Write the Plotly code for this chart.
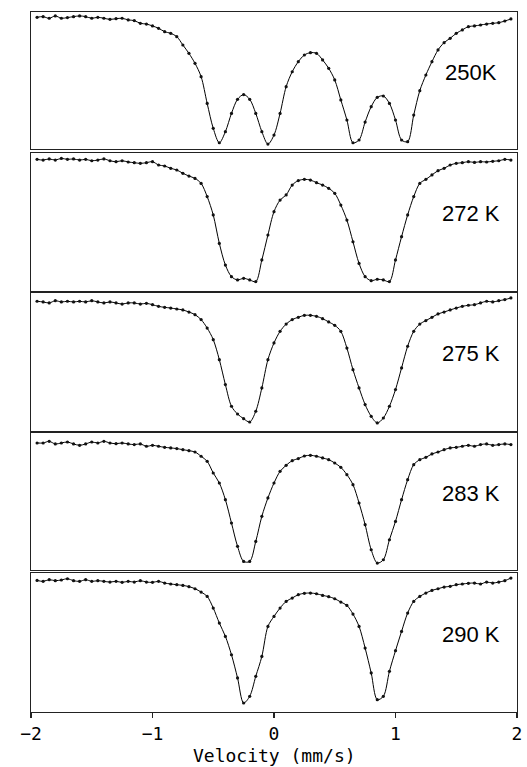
import plotly.graph_objects as go

# Velocity grid (mm/s)
velocity = [round(-1.95 + 0.05 * i, 2) for i in range(79)]

# Relative transmission (% of panel span)
t250 = [96.1, 96.6, 95.4, 97.1, 95.4, 95.9, 96.6, 97.1, 96.6, 95.4, 96.1, 95.4, 94.6, 95.1, 95.4, 94.2,
        93.7, 91.7, 91.2, 89.8, 88.1, 85.6, 84.4, 82.0, 75.9, 69.8, 62.5, 52.8, 33.3, 15.1, 4.6, 12.7,
        26.0, 36.3, 39.7, 36.3, 26.0, 12.7, 3.6, 10.2, 26.0, 45.5, 56.4, 63.7, 68.6, 70.3, 69.8, 65.0,
        58.9, 50.4, 35.8, 21.2, 4.6, 6.6, 19.7, 30.9, 37.7, 38.7, 33.3, 21.2, 6.6, 5.4, 24.8, 42.6,
        54.0, 63.7, 72.3, 77.6, 80.8, 84.4, 86.9, 89.3, 89.8, 90.5, 91.2, 91.7, 92.2, 93.4, 94.9]

t272 = [95.4, 94.9, 95.7, 94.9, 96.1, 95.4, 95.7, 94.9, 95.4, 94.4, 94.9, 95.7, 94.4, 93.7, 94.4, 93.5,
        93.0, 92.5, 93.0, 93.7, 91.3, 90.6, 88.9, 87.7, 85.3, 83.3, 81.6, 78.0, 68.4, 55.1, 34.5, 18.8,
        10.4, 8.0, 9.2, 8.0, 6.8, 22.5, 40.6, 57.5, 65.9, 69.6, 76.8, 80.0, 80.9, 80.4, 78.5, 76.8,
        74.4, 70.8, 62.3, 51.4, 35.7, 20.0, 10.4, 7.5, 8.5, 8.0, 6.8, 22.5, 39.4, 55.1, 68.4, 78.0,
        80.9, 84.1, 87.2, 88.9, 91.3, 92.5, 93.0, 93.7, 93.2, 93.7, 93.5, 94.0, 94.4, 95.4, 94.9]

t275 = [94.0, 93.5, 92.8, 94.4, 93.5, 94.0, 93.5, 94.0, 93.5, 94.4, 93.5, 92.8, 93.5, 92.8, 92.0, 92.8,
        92.8, 92.0, 92.5, 91.5, 90.3, 89.6, 89.1, 88.4, 87.7, 86.2, 84.3, 80.7, 74.6, 66.2, 51.7, 33.6,
        17.9, 12.3, 8.9, 6.5, 14.3, 31.2, 51.7, 63.8, 72.2, 77.5, 80.7, 82.4, 83.8, 83.8, 83.1, 81.4,
        79.0, 76.6, 72.2, 60.1, 44.4, 31.2, 19.1, 10.6, 5.8, 9.4, 17.9, 30.0, 45.7, 61.4, 72.2, 77.5,
        80.0, 82.4, 84.8, 86.2, 87.7, 89.1, 90.3, 91.1, 91.5, 92.8, 94.0, 93.5, 94.4, 95.2, 96.4]

t283 = [92.7, 92.7, 93.9, 92.0, 92.7, 93.4, 92.0, 91.0, 92.0, 93.4, 92.7, 93.9, 92.7, 92.2, 92.7, 92.0,
        91.5, 92.0, 90.3, 91.0, 90.3, 89.5, 89.1, 88.6, 87.8, 87.1, 86.1, 83.0, 79.3, 70.8, 63.5, 51.3,
        34.3, 17.3, 6.3, 6.3, 20.9, 39.2, 52.6, 63.5, 72.0, 76.4, 79.8, 81.3, 83.2, 83.7, 83.0, 81.8,
        80.5, 78.1, 74.9, 69.6, 62.3, 48.9, 33.1, 14.8, 5.1, 7.5, 22.1, 35.5, 51.3, 65.9, 76.9, 80.5,
        82.2, 84.7, 86.1, 87.8, 89.1, 89.5, 90.3, 91.0, 90.3, 91.5, 92.0, 91.0, 91.5, 92.0, 91.5]

t290 = [94.7, 94.0, 95.2, 94.5, 95.0, 95.9, 94.5, 94.0, 95.2, 94.0, 94.5, 94.0, 93.5, 94.0, 93.3, 94.0,
        93.5, 94.5, 93.5, 93.3, 94.0, 92.8, 92.1, 91.6, 91.1, 90.2, 88.7, 86.3, 83.2, 74.8, 64.0, 54.4,
        41.2, 24.5, 6.5, 11.3, 25.7, 40.0, 61.6, 68.8, 74.8, 79.6, 82.0, 84.4, 85.4, 85.6, 85.1, 83.9,
        83.0, 81.5, 79.1, 76.7, 70.5, 61.6, 46.0, 28.1, 8.9, 11.3, 29.3, 44.1, 58.0, 71.2, 79.6, 83.2,
        85.6, 87.5, 88.7, 89.9, 90.4, 91.6, 92.1, 92.6, 92.8, 92.1, 93.5, 92.8, 93.5, 94.5, 96.4]

temperatures = ["250K", "272 K", "275 K", "283 K", "290 K"]
spectra = [t250, t272, t275, t283, t290]

tick_vals = [-2, -1, 0, 1, 2]
tick_text = ["\u22122", "\u22121", "0", "1", "2"]
x_title = "Velocity (mm/s)"

# panel domains (fraction of figure height)
domains = [(0.8057, 0.9844), (0.6206, 0.8005), (0.4381, 0.6180), (0.2568, 0.4355), (0.0717, 0.2529)]
xdom = [31 / 527, 517 / 527]

fig = go.Figure()
layout = dict(
    width=527, height=767,
    margin=dict(l=0, r=0, t=0, b=0),
    paper_bgcolor="white", plot_bgcolor="white",
    showlegend=False,
)

annotations = []
for i, (vals, label, dom) in enumerate(zip(spectra, temperatures, domains), start=1):
    xa = "x" if i == 1 else f"x{i}"
    ya = "y" if i == 1 else f"y{i}"
    fig.add_trace(go.Scatter(
        x=velocity, y=vals, mode="lines+markers",
        line=dict(color="black", width=1, shape="spline", smoothing=0.9),
        marker=dict(size=3.2, color="#111111"),
        xaxis=xa, yaxis=ya, hoverinfo="skip",
    ))
    last = (i == 5)
    layout[f"xaxis{i}"] = dict(
        domain=xdom, range=[-2, 2], anchor=ya,
        showline=True, mirror=True, linecolor="#222222", linewidth=1.3,
        showgrid=False, zeroline=False,
        ticks="outside" if last else "", ticklen=5, tickwidth=1.5, tickcolor="#222222",
        tickvals=tick_vals, ticktext=tick_text, showticklabels=last,
        tickfont=dict(family="DejaVu Sans Mono", size=18, color="black"),
        automargin=False,
    )
    layout[f"yaxis{i}"] = dict(
        domain=list(dom), range=[0, 100], anchor=xa,
        showline=True, mirror=True, linecolor="#222222", linewidth=1.3,
        showgrid=False, zeroline=False, showticklabels=False, ticks="",
        automargin=False,
    )
    annotations.append(dict(
        x=1.62, y=56, xref=xa, yref=ya, text=label, showarrow=False,
        xanchor="center", yanchor="middle",
        font=dict(family="Liberation Sans", size=22, color="black"),
    ))

annotations.append(dict(
    x=0, y=0, xref="x5", yref="paper", text=x_title, showarrow=False,
    xanchor="center", yanchor="bottom", borderpad=0,
    font=dict(family="DejaVu Sans Mono", size=18, color="black"),
))

layout["annotations"] = annotations
fig.update_layout(**layout)
fig.write_html(
    "out.html",
    config={"displayModeBar": False, "staticPlot": True},
    post_script="document.body.style.margin='0px';document.body.style.overflow='hidden';",
)
